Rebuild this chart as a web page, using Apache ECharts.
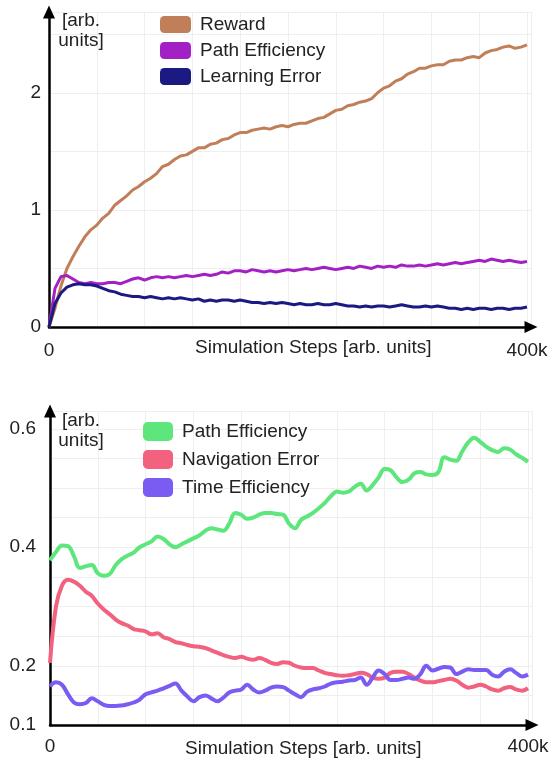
<!DOCTYPE html>
<html>
<head>
<meta charset="utf-8">
<script src="https://cdn.jsdelivr.net/npm/echarts@6/dist/echarts.min.js"></script>
<style>
html,body{margin:0;padding:0;background:#fff;}
#chart{width:553px;height:760px;}
</style>
</head>
<body>
<div id="chart"></div>
<script>
// ---- shared x positions (thousands of simulation steps) ----
const steps = [0,5,10,15,20,25,30,35,40,45,50,55,60,65,70,75,80,85,90,95,
  100,105,110,115,120,125,130,135,140,145,150,155,160,165,170,175,180,185,190,195,
  200,205,210,215,220,225,230,235,240,245,250,255,260,265,270,275,280,285,290,295,
  300,305,310,315,320,325,330,335,340,345,350,355,360,365,370,375,380,385,390,395,400];

// ---- top chart series ----
const reward = [0.00,0.16,0.35,0.50,0.60,0.69,0.77,0.83,0.87,0.93,
  0.97,1.04,1.08,1.12,1.17,1.20,1.24,1.27,1.31,1.37,
  1.39,1.43,1.46,1.47,1.50,1.53,1.53,1.56,1.57,1.60,
  1.61,1.64,1.66,1.66,1.68,1.69,1.70,1.69,1.71,1.72,
  1.71,1.73,1.74,1.74,1.76,1.78,1.79,1.82,1.85,1.86,
  1.89,1.90,1.92,1.93,1.95,2.00,2.04,2.06,2.10,2.12,
  2.16,2.18,2.21,2.21,2.23,2.24,2.24,2.27,2.28,2.28,
  2.30,2.31,2.30,2.34,2.36,2.37,2.39,2.40,2.38,2.39,2.41];
const pathEffTop = [0.00,0.33,0.43,0.44,0.41,0.38,0.37,0.38,0.37,0.37,
  0.38,0.38,0.37,0.39,0.41,0.42,0.40,0.42,0.43,0.42,
  0.43,0.42,0.43,0.44,0.43,0.44,0.45,0.44,0.45,0.47,
  0.46,0.48,0.48,0.47,0.49,0.48,0.47,0.48,0.47,0.48,
  0.49,0.48,0.49,0.50,0.49,0.50,0.51,0.50,0.49,0.50,
  0.51,0.50,0.52,0.51,0.50,0.52,0.51,0.52,0.51,0.53,
  0.52,0.52,0.53,0.52,0.53,0.54,0.53,0.54,0.55,0.54,
  0.55,0.56,0.57,0.56,0.58,0.57,0.56,0.57,0.56,0.55,0.56];
const learnErr = [0.00,0.20,0.29,0.34,0.36,0.37,0.36,0.36,0.35,0.33,
  0.31,0.30,0.28,0.27,0.26,0.26,0.25,0.26,0.25,0.24,
  0.25,0.24,0.25,0.24,0.23,0.24,0.22,0.23,0.22,0.23,
  0.23,0.22,0.23,0.22,0.21,0.21,0.20,0.21,0.20,0.21,
  0.20,0.19,0.20,0.19,0.19,0.20,0.19,0.19,0.20,0.19,
  0.18,0.18,0.17,0.18,0.17,0.18,0.18,0.17,0.18,0.19,
  0.18,0.17,0.17,0.18,0.17,0.18,0.17,0.16,0.16,0.15,
  0.16,0.15,0.16,0.16,0.15,0.16,0.16,0.15,0.16,0.16,0.17];

// ---- bottom chart series ----
const pathEffBot = [0.378,0.392,0.403,0.402,0.385,0.365,0.368,0.370,0.356,0.352,
  0.355,0.370,0.380,0.386,0.391,0.400,0.405,0.410,0.418,0.414,
  0.405,0.400,0.405,0.410,0.415,0.420,0.428,0.432,0.430,0.428,
  0.440,0.458,0.455,0.448,0.450,0.455,0.458,0.458,0.456,0.455,
  0.440,0.432,0.446,0.452,0.458,0.466,0.475,0.486,0.494,0.492,
  0.494,0.502,0.507,0.496,0.505,0.518,0.532,0.530,0.518,0.510,
  0.514,0.525,0.527,0.523,0.522,0.527,0.552,0.548,0.546,0.562,
  0.577,0.585,0.578,0.570,0.564,0.561,0.567,0.565,0.557,0.551,0.544];
const navErr = [0.205,0.300,0.335,0.345,0.342,0.335,0.325,0.318,0.305,0.295,
  0.287,0.278,0.272,0.268,0.262,0.260,0.258,0.253,0.255,0.248,
  0.245,0.240,0.238,0.235,0.233,0.232,0.230,0.226,0.222,0.218,
  0.215,0.213,0.215,0.212,0.210,0.213,0.210,0.205,0.203,0.206,
  0.205,0.200,0.197,0.196,0.196,0.192,0.188,0.186,0.184,0.183,
  0.184,0.186,0.188,0.186,0.180,0.178,0.180,0.188,0.190,0.190,
  0.186,0.180,0.175,0.172,0.172,0.174,0.176,0.178,0.175,0.168,
  0.163,0.165,0.168,0.165,0.160,0.158,0.162,0.164,0.160,0.158,0.162];
const timeEff = [0.165,0.172,0.168,0.152,0.138,0.135,0.137,0.145,0.140,0.134,
  0.132,0.132,0.133,0.135,0.138,0.143,0.152,0.155,0.158,0.162,
  0.166,0.170,0.158,0.148,0.140,0.147,0.150,0.145,0.140,0.146,
  0.155,0.158,0.160,0.168,0.160,0.155,0.158,0.163,0.165,0.164,
  0.158,0.152,0.147,0.156,0.160,0.162,0.165,0.170,0.172,0.173,
  0.175,0.176,0.180,0.168,0.180,0.192,0.186,0.176,0.176,0.178,
  0.180,0.178,0.186,0.200,0.192,0.195,0.198,0.197,0.186,0.190,
  0.194,0.193,0.193,0.193,0.185,0.182,0.190,0.194,0.188,0.182,0.185];

// ---- tick labels ----
const xTickValues = [0, 400];
const xTickLabels = ['0', '400k'];
const yTopTicks = [0, 1, 2];
const yBotTicks = [0.1, 0.2, 0.4, 0.6];

// ---- legend names ----
const topNames = ['Reward', 'Path Efficiency', 'Learning Error'];
const botNames = ['Path Efficiency', 'Navigation Error', 'Time Efficiency'];
const topColors = ['#c07f58', '#a321c4', '#1b1a82'];
const botColors = ['#5ce67c', '#f2617e', '#7b5cf2'];

const FONT = 'Liberation Sans, Arial, sans-serif';
const TXT = '#222';

function pairs(vals){ return steps.map((s,i)=>[s, vals[i]]); }
function xFmt(v){ const i = xTickValues.findIndex(t=>Math.abs(t-v)<1e-6); return i>=0 ? xTickLabels[i] : ''; }
function tickFmt(list){ return v => { const t = list.find(t=>Math.abs(t-v)<1e-6); return t===undefined ? '' : String(t); }; }

const axisLine = {show:true, lineStyle:{color:'#000', width:2.5}, symbol:['none','triangle'], symbolSize:[12,13]};
const splitLine = {show:true, lineStyle:{color:'#efefef', width:1}};

function xAxis(gi){
  return {type:'value', gridIndex:gi, min:0, max:403.35, interval:40,
    axisLine:axisLine, axisTick:{show:false}, splitLine:splitLine,
    axisLabel:{formatter:xFmt, fontSize:19, color:TXT, fontFamily:FONT, margin: gi===0?14:12, showMaxLabel:false}};
}

const chart = echarts.init(document.getElementById('chart'), null, {renderer:'canvas'});
const option = {
  backgroundColor:'#fff',
  animation:false,
  grid:[
    {left:49, top:12, width:482, height:315, containLabel:false, outerBoundsMode:'none'},
    {left:50, top:411, width:482, height:314, containLabel:false, outerBoundsMode:'none'}
  ],
  xAxis:[xAxis(0), xAxis(1)],
  yAxis:[
    {type:'value', gridIndex:0, min:0, max:2.69, interval:0.5,
      axisLine:axisLine, axisTick:{show:false}, splitLine:splitLine,
      axisLabel:{formatter:tickFmt(yTopTicks), fontSize:19, color:TXT, fontFamily:FONT, margin:8, showMaxLabel:false}},
    {type:'value', gridIndex:1, min:0.1, max:0.630, interval:0.05,
      axisLine:axisLine, axisTick:{show:false}, splitLine:splitLine,
      axisLabel:{formatter:tickFmt(yBotTicks), fontSize:19, color:TXT, fontFamily:FONT, margin:14, showMaxLabel:false}}
  ],
  legend:[
    {orient:'vertical', left:160, top:15, padding:0, itemWidth:31, itemHeight:17, itemGap:7, icon:'roundRect',
      textStyle:{fontSize:19, color:TXT, fontFamily:FONT, padding:[0,0,0,4]},
      data: topNames.map((n,i)=>({name:n, itemStyle:{color:topColors[i], borderWidth:0}}))},
    {orient:'vertical', left:143, top:422, padding:0, itemWidth:30, itemHeight:19, itemGap:9, icon:'roundRect',
      textStyle:{fontSize:19, color:TXT, fontFamily:FONT, padding:[0,0,0,4]},
      data: botNames.map((n,i)=>({name:n, itemStyle:{color:botColors[i], borderWidth:0}}))}
  ],
  graphic:[
    {type:'text', x:81, y:11, z:100, style:{text:'[arb.\nunits]', lineHeight:20, fill:TXT, font:'19px '+FONT, align:'center', verticalAlign:'top'}},
    {type:'text', x:81, y:411, z:100, style:{text:'[arb.\nunits]', lineHeight:20, fill:TXT, font:'19px '+FONT, align:'center', verticalAlign:'top'}},
    {type:'text', x:195, y:338, z:100, style:{text:'Simulation Steps [arb. units]', fill:TXT, font:'19px '+FONT, verticalAlign:'top'}},
    {type:'text', x:185, y:739, z:100, style:{text:'Simulation Steps [arb. units]', fill:TXT, font:'19px '+FONT, verticalAlign:'top'}}
  ],
  series:[
    {name:topNames[0], type:'line', xAxisIndex:0, yAxisIndex:0, data:pairs(reward), showSymbol:false,
      lineStyle:{color:topColors[0], width:3}, itemStyle:{color:topColors[0]}},
    {name:topNames[1], type:'line', xAxisIndex:0, yAxisIndex:0, data:pairs(pathEffTop), showSymbol:false,
      lineStyle:{color:topColors[1], width:3}, itemStyle:{color:topColors[1]}},
    {name:topNames[2], type:'line', xAxisIndex:0, yAxisIndex:0, data:pairs(learnErr), showSymbol:false,
      lineStyle:{color:topColors[2], width:3}, itemStyle:{color:topColors[2]}},
    {name:botNames[0], type:'line', xAxisIndex:1, yAxisIndex:1, data:pairs(pathEffBot), showSymbol:false, smooth:0.4,
      lineStyle:{color:botColors[0], width:4}, itemStyle:{color:botColors[0]}},
    {name:botNames[1], type:'line', xAxisIndex:1, yAxisIndex:1, data:pairs(navErr), showSymbol:false, smooth:0.4,
      lineStyle:{color:botColors[1], width:4}, itemStyle:{color:botColors[1]}},
    {name:botNames[2], type:'line', xAxisIndex:1, yAxisIndex:1, data:pairs(timeEff), showSymbol:false, smooth:0.4,
      lineStyle:{color:botColors[2], width:4}, itemStyle:{color:botColors[2]}}
  ]
};
chart.setOption(option);
</script>
</body>
</html>
